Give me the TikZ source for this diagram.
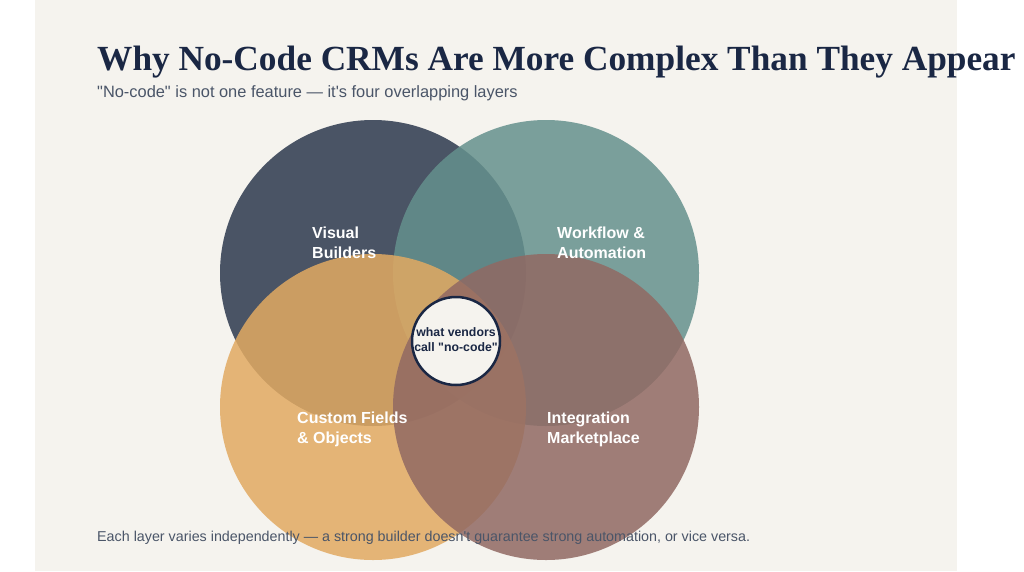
\documentclass[tikz,border=0pt]{standalone}
\usepackage{fontspec}
\setmainfont{Liberation Sans}[Ligatures=TeXOff]
\newfontfamily\titlefont{Liberation Serif}
\definecolor{pagebg}{HTML}{F5F3EE}
\definecolor{navy}{HTML}{1A2744}
\definecolor{subgray}{HTML}{4A5568}
\definecolor{slate}{HTML}{2D394E}
\definecolor{teal}{HTML}{65918D}
\definecolor{ochre}{HTML}{E2AA62}
\definecolor{clay}{HTML}{916963}
\tikzset{
  layer/.style={circle, minimum size=306pt, inner sep=0pt, fill opacity=0.85, draw=none},
  lbl/.style={anchor=base west, text=white, font=\fontsize{16}{20}\selectfont\bfseries, inner sep=0pt},
}
\begin{document}
\begin{tikzpicture}[x=1pt,y=-1pt]
\useasboundingbox (0,0) rectangle (1024,571);
\fill[white] (0,0) rectangle (1024,571);
\fill[pagebg] (35,0) rectangle (957,571);
\node[anchor=base west, inner sep=0pt, text=navy, font=\titlefont\fontsize{35.3}{40}\selectfont\bfseries] (title) at (97,70) {Why No-Code CRMs Are More Complex Than They Appear};
\node[anchor=base west, inner sep=0pt, text=subgray, font=\fontsize{16.4}{19}\selectfont] (sub) at (97,97) {\symbol{34}No-code\symbol{34} is not one feature — it\symbol{39}s four overlapping layers};
\node[layer, fill=slate] (vis) at (373,273) {};
\node[layer, fill=teal] (wf) at (546,273) {};
\node[layer, fill=ochre] (cf) at (373,407) {};
\node[layer, fill=clay] (im) at (546,407) {};
\node[anchor=base west, inner sep=0pt, text=subgray, font=\fontsize{14.3}{17}\selectfont] (foot) at (97,541) {Each layer varies independently — a strong builder doesn\symbol{39}t guarantee strong automation, or vice versa.};
\node[lbl] (visl1) at (312,238) {Visual};
\node[lbl] (visl2) at (312,258) {Builders};
\node[lbl] (wfl1) at (557,238) {Workflow \&};
\node[lbl] (wfl2) at (557,258) {Automation};
\node[lbl] (cfl1) at (297,423) {Custom Fields};
\node[lbl] (cfl2) at (297,443) {\& Objects};
\node[lbl] (iml1) at (547,423) {Integration};
\node[lbl] (iml2) at (547,443) {Marketplace};
\node[circle, minimum size=88pt, inner sep=0pt, fill=pagebg, draw=navy, line width=2.5pt] (core) at (456,341) {};
\node[anchor=base, inner sep=0pt, text=navy, font=\fontsize{12.3}{15}\selectfont\bfseries] (c1) at (456,336) {what vendors};
\node[anchor=base, inner sep=0pt, text=navy, font=\fontsize{12.3}{15}\selectfont\bfseries] (c2) at (456,351) {call \symbol{34}no-code\symbol{34}};
\end{tikzpicture}
\end{document}
